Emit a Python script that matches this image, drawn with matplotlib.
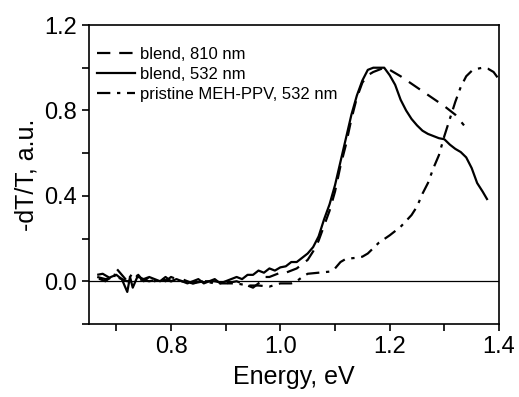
import numpy as np
import matplotlib
matplotlib.use('Agg')
import matplotlib.pyplot as plt
from matplotlib.ticker import MultipleLocator

plt.rcParams['font.family'] = ['Liberation Sans', 'DejaVu Sans']

# blend, 810 nm (dashed)
e_810 = [0.665, 0.68, 0.70, 0.72, 0.74, 0.76, 0.78, 0.80, 0.82, 0.84, 0.86, 0.88, 0.90, 0.92,
         0.94, 0.95, 0.96, 0.97, 0.98, 0.99, 1.00, 1.01, 1.02, 1.03, 1.04, 1.05, 1.06, 1.07,
         1.08, 1.09, 1.10, 1.11, 1.12, 1.13, 1.14, 1.15, 1.16, 1.17, 1.18, 1.19, 1.20, 1.22,
         1.24, 1.26, 1.28, 1.30, 1.32, 1.336]
s_810 = [0.02, 0.01, 0.02, 0.0, 0.01, 0.0, 0.01, 0.0, 0.01, -0.01, 0.0, 0.0, -0.01, 0.0,
         -0.02, -0.03, -0.01, 0.02, 0.02, 0.03, 0.04, 0.04, 0.05, 0.06, 0.08, 0.10, 0.14, 0.19,
         0.26, 0.33, 0.42, 0.54, 0.64, 0.76, 0.86, 0.93, 0.965, 0.98, 0.99, 1.0, 0.99, 0.96,
         0.925, 0.89, 0.855, 0.82, 0.78, 0.73]

# blend, 532 nm (solid)
e_532 = [0.67, 0.68, 0.69, 0.70, 0.71, 0.72, 0.725, 0.73, 0.74, 0.75, 0.76, 0.77, 0.78, 0.79,
         0.80, 0.81, 0.82, 0.83, 0.84, 0.85, 0.86, 0.87, 0.88, 0.89, 0.90, 0.91, 0.92, 0.93,
         0.94, 0.95, 0.96, 0.97, 0.98, 0.99, 1.00, 1.01, 1.02, 1.03, 1.04, 1.05, 1.06, 1.07,
         1.08, 1.09, 1.10, 1.11, 1.12, 1.13, 1.14, 1.15, 1.16, 1.17, 1.18, 1.19, 1.20, 1.21,
         1.22, 1.23, 1.24, 1.25, 1.26, 1.27, 1.28, 1.29, 1.30, 1.31, 1.32, 1.33, 1.34, 1.35,
         1.36, 1.37, 1.378]
s_532 = [0.01, 0.0, 0.02, 0.03, 0.01, -0.05, 0.02, -0.03, 0.03, 0.0, 0.02, 0.01, 0.0, 0.02,
         0.0, 0.01, 0.0, -0.01, 0.0, 0.01, -0.01, 0.0, 0.01, -0.01, 0.0, 0.01, 0.02, 0.01,
         0.03, 0.03, 0.05, 0.04, 0.06, 0.05, 0.065, 0.07, 0.09, 0.09, 0.11, 0.13, 0.16, 0.21,
         0.29, 0.36, 0.45, 0.56, 0.67, 0.78, 0.87, 0.94, 0.99, 1.0, 1.0, 1.0, 0.965, 0.92,
         0.85, 0.80, 0.76, 0.73, 0.705, 0.69, 0.68, 0.67, 0.665, 0.64, 0.62, 0.605, 0.58, 0.53,
         0.46, 0.42, 0.385]

# pristine MEH-PPV, 532 nm (dash-dot)
e_pr = [0.665, 0.675, 0.685, 0.695, 0.70, 0.71, 0.72, 0.73, 0.74, 0.75, 0.76, 0.77, 0.78, 0.79,
        0.80, 0.81, 0.82, 0.84, 0.86, 0.88, 0.90, 0.92, 0.94, 0.96, 0.98, 1.00, 1.02, 1.03,
        1.04, 1.05, 1.07, 1.09, 1.10, 1.11, 1.12, 1.14, 1.15, 1.16, 1.18, 1.20, 1.22, 1.24,
        1.25, 1.26, 1.27, 1.28, 1.29, 1.30, 1.31, 1.32, 1.33, 1.34, 1.35, 1.36, 1.37, 1.38,
        1.39, 1.40]
s_pr = [0.03, 0.035, 0.02, 0.01, 0.06, 0.03, 0.0, 0.04, 0.02, 0.01, 0.02, 0.0, 0.01, 0.0,
        0.02, 0.01, 0.0, -0.01, 0.0, -0.01, -0.01, -0.01, -0.02, -0.02, -0.025, -0.01, -0.01, 0.0,
        0.02, 0.035, 0.04, 0.045, 0.06, 0.09, 0.105, 0.11, 0.115, 0.13, 0.18, 0.215, 0.255, 0.31,
        0.35, 0.41, 0.46, 0.53, 0.59, 0.68, 0.76, 0.84, 0.91, 0.96, 0.985, 0.995, 1.0, 0.995,
        0.98, 0.945]

fig = plt.figure(figsize=(5.19, 3.97), dpi=100)
ax = fig.add_axes([0.1715, 0.184, 0.79, 0.753])

ax.axhline(0, color='black', linewidth=0.9)
ax.plot(e_810, s_810, color='black', linewidth=1.6, dashes=(6, 4), label='blend, 810 nm')
ax.plot(e_532, s_532, color='black', linewidth=1.6, label='blend, 532 nm')
ax.plot(e_pr, s_pr, color='black', linewidth=1.6, dashes=(6, 3, 1.5, 3),
        label='pristine MEH-PPV, 532 nm')

ax.set_xlim(0.65, 1.4)
ax.set_ylim(-0.2, 1.2)
ax.xaxis.set_major_locator(MultipleLocator(0.2))
ax.xaxis.set_minor_locator(MultipleLocator(0.1))
ax.yaxis.set_major_locator(MultipleLocator(0.4))
ax.yaxis.set_minor_locator(MultipleLocator(0.2))
ax.xaxis.set_major_formatter(plt.FormatStrFormatter('%.1f'))
ax.yaxis.set_major_formatter(plt.FormatStrFormatter('%.1f'))
ax.tick_params(which='both', direction='out', top=False, right=False, labelsize=17,
               width=1.2, length=5)
for sp in ax.spines.values():
    sp.set_linewidth(1.2)

ax.set_xlabel('Energy, eV', fontsize=18, labelpad=5)
ax.set_ylabel('-dT/T, a.u.', fontsize=18, labelpad=4)

ax.legend(loc='upper left', bbox_to_anchor=(-0.01, 0.965), frameon=False, fontsize=12,
          handlelength=2.3, handletextpad=0.3, labelspacing=0.3, borderaxespad=0.3)

fig.savefig('out.png', dpi=100)
